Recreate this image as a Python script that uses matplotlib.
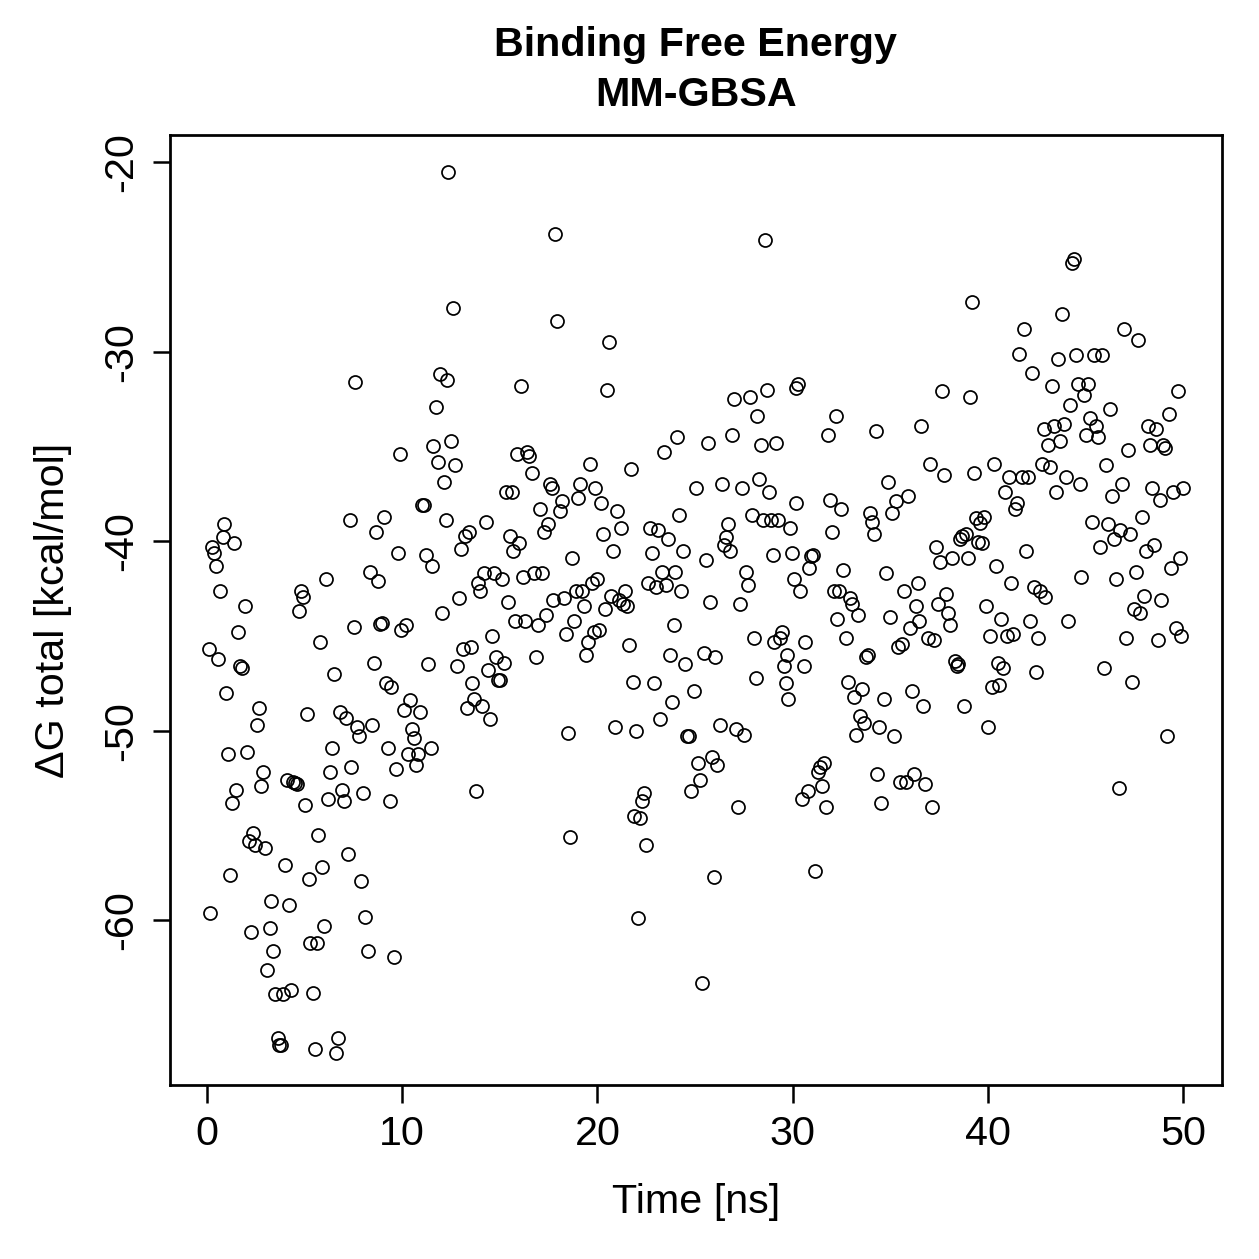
import matplotlib
matplotlib.use("Agg")
import matplotlib.pyplot as plt

# MM-GBSA binding free energy per frame
time_ns = [
    0.1, 0.15, 0.25, 0.35, 0.45, 0.55, 0.65, 0.8, 0.85, 0.95, 1.05, 1.2, 1.3, 1.4, 1.5, 1.6, 1.7, 1.8, 1.95, 2.05,
    2.15, 2.25, 2.35, 2.45, 2.55, 2.65, 2.75, 2.85, 2.95, 3.05, 3.2, 3.3, 3.4, 3.5, 3.65, 3.7, 3.8, 3.9, 4.0, 4.1,
    4.2, 4.3, 4.4, 4.5, 4.6, 4.7, 4.8, 4.9, 5.0, 5.1, 5.2, 5.3, 5.45, 5.55, 5.65, 5.7, 5.8, 5.9, 6.0, 6.1,
    6.2, 6.3, 6.4, 6.5, 6.6, 6.7, 6.8, 6.9, 7.0, 7.1, 7.2, 7.3, 7.4, 7.55, 7.6, 7.7, 7.8, 7.9, 8.0, 8.1,
    8.25, 8.35, 8.45, 8.55, 8.65, 8.75, 8.85, 8.95, 9.05, 9.15, 9.25, 9.35, 9.45, 9.6, 9.7, 9.8, 9.9, 9.95, 10.1, 10.2,
    10.3, 10.4, 10.5, 10.6, 10.7, 10.8, 10.9, 11.0, 11.1, 11.2, 11.3, 11.45, 11.5, 11.6, 11.75, 11.85, 11.95, 12.05, 12.15, 12.25,
    12.3, 12.35, 12.5, 12.6, 12.7, 12.8, 12.9, 13.0, 13.1, 13.2, 13.3, 13.4, 13.5, 13.6, 13.7, 13.8, 13.9, 14.0, 14.1, 14.2,
    14.3, 14.4, 14.5, 14.6, 14.7, 14.8, 14.9, 15.0, 15.1, 15.2, 15.3, 15.4, 15.5, 15.6, 15.7, 15.8, 15.9, 16.0, 16.1, 16.2,
    16.3, 16.4, 16.5, 16.65, 16.75, 16.85, 16.95, 17.05, 17.15, 17.25, 17.35, 17.45, 17.55, 17.65, 17.75, 17.85, 17.95, 18.1, 18.2, 18.3,
    18.4, 18.5, 18.6, 18.7, 18.8, 18.9, 19.0, 19.1, 19.2, 19.3, 19.4, 19.5, 19.6, 19.7, 19.8, 19.9, 20.0, 20.1, 20.2, 20.3,
    20.4, 20.5, 20.6, 20.7, 20.8, 20.9, 21.0, 21.1, 21.2, 21.3, 21.4, 21.5, 21.6, 21.7, 21.8, 21.9, 22.0, 22.1, 22.2, 22.3,
    22.4, 22.5, 22.6, 22.7, 22.8, 22.9, 23.0, 23.1, 23.2, 23.3, 23.4, 23.5, 23.6, 23.7, 23.8, 23.9, 24.0, 24.1, 24.2, 24.3,
    24.4, 24.5, 24.6, 24.7, 24.8, 24.95, 25.05, 25.15, 25.25, 25.35, 25.45, 25.55, 25.65, 25.75, 25.85, 25.95, 26.05, 26.15, 26.3, 26.4,
    26.5, 26.6, 26.7, 26.8, 26.9, 27.0, 27.1, 27.2, 27.3, 27.4, 27.5, 27.6, 27.7, 27.8, 27.9, 28.0, 28.1, 28.2, 28.3, 28.4,
    28.5, 28.6, 28.7, 28.8, 28.9, 29.0, 29.05, 29.15, 29.25, 29.35, 29.45, 29.55, 29.65, 29.7, 29.75, 29.85, 29.95, 30.05, 30.15, 30.2,
    30.3, 30.4, 30.5, 30.6, 30.65, 30.8, 30.85, 30.95, 31.05, 31.15, 31.3, 31.4, 31.5, 31.6, 31.7, 31.8, 31.9, 32.0, 32.1, 32.2,
    32.3, 32.4, 32.5, 32.6, 32.75, 32.85, 32.95, 33.05, 33.15, 33.25, 33.35, 33.45, 33.55, 33.65, 33.75, 33.85, 33.95, 34.05, 34.15, 34.25,
    34.35, 34.45, 34.55, 34.7, 34.8, 34.9, 35.0, 35.1, 35.2, 35.3, 35.4, 35.5, 35.6, 35.7, 35.8, 35.9, 36.0, 36.1, 36.2, 36.3,
    36.4, 36.5, 36.6, 36.7, 36.8, 36.95, 37.05, 37.15, 37.25, 37.35, 37.45, 37.55, 37.65, 37.75, 37.85, 37.95, 38.05, 38.15, 38.3, 38.4,
    38.5, 38.6, 38.7, 38.8, 38.9, 39.0, 39.1, 39.2, 39.3, 39.4, 39.5, 39.6, 39.7, 39.8, 39.9, 40.0, 40.1, 40.2, 40.3, 40.4,
    40.5, 40.6, 40.7, 40.8, 40.9, 41.0, 41.1, 41.2, 41.3, 41.4, 41.5, 41.6, 41.75, 41.85, 41.95, 42.05, 42.15, 42.25, 42.35, 42.45,
    42.55, 42.7, 42.8, 42.9, 42.95, 43.1, 43.2, 43.3, 43.4, 43.5, 43.6, 43.7, 43.8, 43.9, 44.0, 44.1, 44.2, 44.3, 44.4, 44.5,
    44.6, 44.7, 44.8, 44.95, 45.05, 45.15, 45.25, 45.35, 45.45, 45.55, 45.65, 45.75, 45.85, 45.95, 46.05, 46.15, 46.25, 46.35, 46.45, 46.55,
    46.7, 46.8, 46.9, 47.0, 47.1, 47.2, 47.3, 47.4, 47.5, 47.6, 47.7, 47.8, 47.9, 48.0, 48.1, 48.2, 48.3, 48.4, 48.5, 48.6,
    48.7, 48.8, 48.9, 49.0, 49.1, 49.2, 49.3, 49.4, 49.5, 49.65, 49.75, 49.85, 49.9, 50.0,
]

dg_total = [
    -45.7, -59.6, -40.3, -40.6, -41.3, -46.2, -42.6, -39.8, -39.1, -48.0, -51.2, -57.6, -53.8, -40.1, -53.1, -44.8, -46.6, -46.7, -43.4, -51.1,
    -55.8, -60.6, -55.4, -56.0, -49.7, -48.8, -52.9, -52.2, -56.2, -62.6, -60.4, -59.0, -61.6, -63.9, -66.2, -66.6, -66.55, -63.9, -57.1, -52.6,
    -59.2, -63.7, -52.7, -52.75, -52.8, -43.7, -42.6, -42.95, -53.9, -49.1, -57.8, -61.2, -63.85, -66.8, -61.2, -55.5, -45.3, -57.2, -60.3, -42.0,
    -53.6, -52.2, -50.9, -47.0, -67.0, -66.2, -49.0, -53.1, -53.7, -49.3, -56.5, -38.9, -51.9, -44.5, -31.6, -49.8, -50.3, -57.9, -53.3, -59.8,
    -61.6, -41.6, -49.7, -46.4, -39.5, -42.1, -44.35, -44.3, -38.7, -47.5, -50.9, -53.7, -47.7, -61.95, -52.0, -40.6, -35.4, -44.7, -48.9, -44.4,
    -51.2, -48.4, -49.9, -50.4, -51.8, -51.2, -49.0, -38.1, -38.1, -40.7, -46.5, -50.9, -41.3, -35.0, -32.9, -35.8, -31.2, -43.8, -36.9, -38.9,
    -31.5, -20.5, -34.7, -27.7, -36.0, -46.6, -43.0, -40.4, -45.7, -39.7, -48.8, -39.5, -45.6, -47.5, -48.3, -53.2, -42.2, -42.6, -48.7, -41.7,
    -39.0, -46.8, -49.4, -45.0, -41.7, -46.1, -47.3, -47.3, -42.0, -46.4, -37.4, -43.2, -39.7, -37.4, -40.5, -44.2, -35.4, -40.1, -31.8, -41.9,
    -44.2, -35.3, -35.5, -36.4, -41.7, -46.1, -44.4, -38.3, -41.7, -39.5, -43.9, -39.1, -37.0, -37.2, -43.1, -23.8, -28.4, -38.4, -37.9, -43.0,
    -44.9, -50.1, -55.6, -40.9, -44.2, -42.6, -37.7, -37.0, -42.6, -43.4, -46.0, -45.3, -35.9, -42.2, -44.8, -37.2, -42.0, -44.7, -38.0, -39.6,
    -43.6, -32.0, -29.5, -42.9, -40.5, -49.8, -38.4, -43.1, -39.3, -43.3, -42.6, -43.4, -45.5, -36.2, -47.4, -54.5, -50.0, -59.9, -54.6, -53.7,
    -53.3, -56.0, -42.2, -39.3, -40.6, -47.5, -42.4, -39.4, -49.4, -41.6, -35.3, -42.3, -39.9, -46.0, -48.5, -44.4, -41.6, -34.5, -38.6, -42.6,
    -40.5, -46.5, -50.3, -50.3, -53.2, -47.9, -37.2, -51.7, -52.6, -63.3, -45.9, -41.0, -34.8, -43.2, -51.4, -57.7, -46.1, -51.8, -49.7, -37.0,
    -40.2, -39.8, -39.1, -40.5, -34.4, -32.5, -49.9, -54.0, -43.3, -37.2, -50.2, -41.6, -42.3, -32.4, -38.6, -45.1, -47.2, -33.4, -36.7, -34.9,
    -38.9, -24.1, -32.0, -37.4, -38.9, -40.7, -45.3, -34.8, -38.9, -45.1, -44.8, -46.6, -47.5, -46.0, -48.3, -39.3, -40.6, -42.0, -31.9, -38.0,
    -31.7, -42.6, -53.6, -46.6, -45.3, -53.2, -41.4, -40.8, -40.7, -57.4, -52.2, -51.9, -52.9, -51.7, -54.0, -34.4, -37.8, -39.5, -42.6, -33.4,
    -44.1, -42.6, -38.3, -41.5, -45.1, -47.4, -43.0, -43.3, -48.2, -50.2, -43.9, -49.2, -47.8, -49.6, -46.1, -46.0, -38.5, -39.0, -39.6, -34.2,
    -52.3, -49.8, -53.8, -48.3, -41.7, -36.9, -44.0, -38.5, -50.3, -37.9, -45.6, -52.7, -45.4, -42.6, -52.7, -37.6, -44.6, -47.9, -52.3, -43.4,
    -42.2, -44.2, -33.9, -48.7, -52.8, -45.1, -35.9, -54.0, -45.2, -40.3, -43.3, -41.1, -32.1, -36.5, -42.8, -43.8, -44.4, -40.9, -46.3, -46.6,
    -46.5, -39.9, -39.7, -48.7, -39.6, -40.9, -32.4, -27.4, -36.4, -38.8, -40.05, -39.05, -40.1, -38.7, -43.4, -49.8, -45.0, -47.7, -35.9, -41.3,
    -46.4, -47.6, -44.1, -46.7, -37.4, -45.0, -36.6, -42.2, -44.9, -38.3, -38.0, -30.1, -36.6, -28.8, -40.5, -36.6, -44.2, -31.1, -42.4, -46.9,
    -45.1, -42.6, -35.9, -34.1, -42.95, -34.9, -36.1, -31.8, -33.9, -37.4, -30.4, -34.7, -28.0, -33.8, -36.6, -44.2, -32.8, -25.3, -25.1, -30.2,
    -31.7, -37.0, -41.9, -32.3, -34.4, -31.7, -33.5, -39.0, -30.2, -33.9, -34.5, -40.3, -30.2, -46.7, -36.0, -39.1, -33.0, -37.6, -39.9, -42.0,
    -53.0, -39.4, -37.0, -28.8, -45.1, -35.2, -39.6, -47.4, -43.6, -41.6, -29.4, -43.8, -38.7, -42.9, -40.5, -33.9, -34.9, -37.2, -40.2, -34.1,
    -45.2, -37.8, -43.1, -34.9, -35.1, -50.3, -33.3, -41.4, -37.4, -44.6, -32.1, -40.9, -45.0, -37.2,
]

x_ticks = [0, 10, 20, 30, 40, 50]
y_ticks = [-20, -30, -40, -50, -60]

plt.rcParams['font.family'] = ['Liberation Sans', 'DejaVu Sans']

fig = plt.figure(figsize=(1259 / 180, 1259 / 180), dpi=180)
ax = fig.add_axes([0.135, 0.138, 0.8356, 0.7546])

ax.plot(time_ns, dg_total, linestyle='none', marker='o', markersize=5.2,
        markerfacecolor='none', markeredgecolor='black', markeredgewidth=0.7)

ax.set_xlim(-1.9, 52.0)
ax.set_ylim(-68.7, -18.58)
ax.set_xticks(x_ticks)
ax.set_yticks(y_ticks)
ax.set_yticklabels([str(v) for v in y_ticks], rotation=90, va='center')

for side in ax.spines.values():
    side.set_linewidth(1.1)
ax.tick_params(direction='out', length=7, width=1.0, labelsize=16.5, pad=5)

ax.set_xlabel('Time [ns]', fontsize=16.5, labelpad=12)
ax.set_ylabel('ΔG total [kcal/mol]', fontsize=16.5, labelpad=12)

# title is centred over the plot region, R style
ax.text(0.5, 1.0 + 0.072 / 0.7546, 'Binding Free Energy', transform=ax.transAxes,
        ha='center', va='center', fontsize=16.5, fontweight='bold')
ax.text(0.5, 1.0 + 0.032 / 0.7546, 'MM-GBSA', transform=ax.transAxes,
        ha='center', va='center', fontsize=16.5, fontweight='bold')

fig.savefig('out.png', dpi=180)
